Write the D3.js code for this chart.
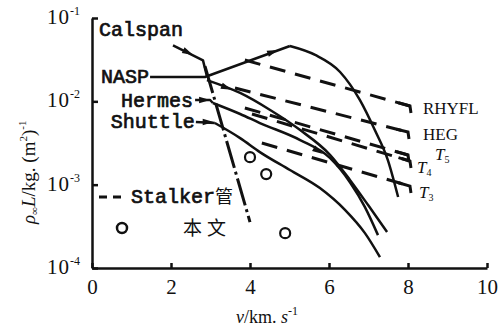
<!DOCTYPE html>
<html><head><meta charset="utf-8">
<script src="https://cdn.jsdelivr.net/npm/d3@7"></script>
<style>body{margin:0;background:#fff}</style>
</head><body>
<script>
var width = 504, height = 329;

var xTicks = [0, 2, 4, 6, 8, 10];
var yTicks = [1e-1, 1e-2, 1e-3, 1e-4];
var yTickExp = ["-1", "-2", "-3", "-4"];

// vehicles: pointer lines and corridors, v (km/s) vs rho*L
var calspan = [[2.05, 0.047], [2.81, 0.031], [2.91, 0.020]];
var nasp = [[1.47, 0.0196], [2.86, 0.0196], [5.01, 0.0461]];
var naspArc = [[5.01, 0.0461], [5.65, 0.036], [6.28, 0.0225], [6.78, 0.0104], [7.16, 0.00452], [7.49, 0.00197], [7.75, 0.00071]];
var naspTrunk = [[2.91, 0.018], [3.75, 0.0126], [4.51, 0.00787], [5.27, 0.00452], [6.03, 0.00227], [6.53, 0.00114], [6.99, 0.000569], [7.47, 0.00027]];
var hermesPtr = [[2.61, 0.01037], [2.99, 0.01037], [3.06, 0.00955]];
var hermes = [[3.06, 0.00955], [3.75, 0.00705], [4.25, 0.00549], [5.27, 0.00343], [6.03, 0.00208], [6.53, 0.00107], [6.91, 0.000538], [7.24, 0.000248]];
var shuttlePtr = [[2.63, 0.00565], [3.11, 0.00549]];
var shuttle = [[3.11, 0.00549], [3.75, 0.00362], [4.25, 0.00246], [5.01, 0.0015], [5.77, 0.00091], [6.41, 0.000495], [6.91, 0.000262], [7.29, 0.000135]];
var dashDot = [[2.86, 0.0265], [4.0, 0.000356]];

// Stalker tubes
var tubeNames = ["RHYFL", "HEG", "T5", "T4", "T3"];
var tubeStart = [[3.87, 0.0313], [3.62, 0.01445], [3.87, 0.00832], [4.05, 0.00705], [4.30, 0.00316]];
var tubeEnd = [[8.05, 0.00879], [8.0, 0.00428], [8.0, 0.00227], [8.05, 0.00192], [8.05, 0.000962]];

// this work
var thisWork = [[4.0, 0.00214], [4.41, 0.00134], [4.89, 0.000262]];

// arrows: [tail, tip]
var arrows = [
  [[2.05, 0.047], [2.56, 0.036]],
  [[2.86, 0.0196], [4.71, 0.0413]],
  [[2.91, 0.018], [3.54, 0.01377]],
  [[2.61, 0.01037], [2.99, 0.01037]],
  [[2.63, 0.00565], [3.08, 0.00565]],
  [[5.27, 0.00343], [5.85, 0.00234]]
];

var x = d3.scaleLinear().domain([0, 10]).range([92, 487]);
var y = d3.scaleLog().domain([1e-4, 1e-1]).range([268, 18]);

var svg = d3.select("body").append("svg")
    .attr("width", width)
    .attr("height", height)
    .style("background", "#fff");

var ink = "#111";
var line = d3.line().x(function(d) { return x(d[0]); }).y(function(d) { return y(d[1]); });
var curve = d3.line().x(function(d) { return x(d[0]); }).y(function(d) { return y(d[1]); }).curve(d3.curveMonotoneX);

// axes
var xAxis = svg.append("g")
    .attr("transform", "translate(0," + y(1e-4) + ")")
    .call(d3.axisBottom(x).tickValues(xTicks).tickSizeInner(-5).tickSizeOuter(0).tickPadding(11).tickFormat(d3.format("d")));
var yAxis = svg.append("g")
    .attr("transform", "translate(" + x(0) + ",0)")
    .call(d3.axisLeft(y).tickValues(yTicks).tickSizeInner(-6).tickSizeOuter(0).tickFormat(""));
svg.selectAll(".domain, .tick line").attr("stroke", ink).attr("stroke-width", 2.5);
xAxis.selectAll("text").attr("font-family", "Liberation Serif").attr("font-size", 21).attr("fill", ink);

yTicks.forEach(function(t, i) {
  var tx = svg.append("text")
      .attr("x", 80)
      .attr("y", y(t) + 6)
      .attr("text-anchor", "end")
      .attr("font-family", "Liberation Serif")
      .attr("fill", ink);
  tx.append("tspan").attr("font-size", 21).attr("letter-spacing", 1).text("10");
  tx.append("tspan").attr("font-size", 12).attr("dy", -9).text(yTickExp[i]);
});

// axis titles
var xt = svg.append("text")
    .attr("x", 236).attr("y", 323)
    .attr("font-family", "Liberation Serif").attr("font-size", 18).attr("fill", ink);
xt.append("tspan").attr("font-style", "italic").text("v");
xt.append("tspan").text("/km. ");
xt.append("tspan").attr("font-style", "italic").text("s");
xt.append("tspan").attr("font-size", 12).attr("dy", -8).text("-1");

var yt = svg.append("text")
    .attr("transform", "translate(35,224) rotate(-90)")
    .attr("font-family", "Liberation Serif").attr("font-size", 19).attr("fill", ink);
yt.append("tspan").attr("font-style", "italic").text("ρ");
yt.append("tspan").attr("font-size", 11).attr("dy", 3).text("∞");
yt.append("tspan").attr("font-style", "italic").attr("dy", -3).text("L");
yt.append("tspan").text("/kg. (m");
yt.append("tspan").attr("font-size", 11).attr("dy", -8).text("2");
yt.append("tspan").attr("dy", 8).text(")");
yt.append("tspan").attr("font-size", 11).attr("dy", -9).text("-1");

// stalker tube lines
tubeNames.forEach(function(n, i) {
  var a = tubeStart[i], b = tubeEnd[i];
  svg.append("path")
      .attr("d", line([a, b]))
      .attr("fill", "none").attr("stroke", ink).attr("stroke-width", 3)
      .attr("stroke-dasharray", "16,10");
  var ex = x(b[0]), ey = y(b[1]);
  var ang = Math.atan2(y(b[1]) - y(a[1]), x(b[0]) - x(a[0]));
  svg.append("path")
      .attr("d", "M" + (ex - 12 * Math.cos(ang)) + "," + (ey - 12 * Math.sin(ang)) + "L" + ex + "," + ey + "l1,7")
      .attr("fill", "none").attr("stroke", ink).attr("stroke-width", 3);
});

// tube labels
var tubeLabelOff = [[13, 8], [15, 8], [27, 5], [7, 12], [9, 12]];
tubeNames.forEach(function(n, i) {
  var b = tubeEnd[i];
  var t = svg.append("text")
      .attr("x", x(b[0]) + tubeLabelOff[i][0])
      .attr("y", y(b[1]) + tubeLabelOff[i][1])
      .attr("font-family", "Liberation Serif").attr("fill", ink);
  if (n.charAt(0) === "T") {
    t.append("tspan").attr("font-size", 17).attr("font-style", "italic").text("T");
    t.append("tspan").attr("font-size", 10).attr("dy", 3).text(n.slice(1));
  } else {
    t.attr("font-size", 17).text(n);
  }
});

// solid lines
[calspan, nasp, hermesPtr, shuttlePtr].forEach(function(d) {
  svg.append("path").attr("d", line(d))
      .attr("fill", "none").attr("stroke", ink).attr("stroke-width", 2.5).attr("stroke-linejoin", "round");
});
[naspArc, naspTrunk, hermes, shuttle].forEach(function(d) {
  svg.append("path").attr("d", curve(d))
      .attr("fill", "none").attr("stroke", ink).attr("stroke-width", 2.5);
});
svg.append("path").attr("d", line(dashDot))
    .attr("fill", "none").attr("stroke", ink).attr("stroke-width", 3)
    .attr("stroke-dasharray", "28,4,3,4");

// arrows
arrows.forEach(function(a) {
  var x1 = x(a[0][0]), y1 = y(a[0][1]), x2 = x(a[1][0]), y2 = y(a[1][1]);
  var ang = Math.atan2(y2 - y1, x2 - x1) * 180 / Math.PI;
  svg.append("path")
      .attr("d", "M0,0L-11,-3.2L-11,3.2Z")
      .attr("transform", "translate(" + x2 + "," + y2 + ") rotate(" + ang + ")")
      .attr("fill", ink);
});

// this work points
svg.selectAll("circle.pt")
    .data(thisWork)
    .enter().append("circle")
    .attr("class", "pt")
    .attr("cx", function(d) { return x(d[0]); })
    .attr("cy", function(d) { return y(d[1]); })
    .attr("r", 5)
    .attr("fill", "none").attr("stroke", ink).attr("stroke-width", 2.2);

// vehicle labels
var mono = function(t, px, py) {
  return svg.append("text").attr("x", px).attr("y", py)
      .attr("font-family", "Liberation Mono")
      .attr("font-size", 20).attr("fill", ink)
      .attr("stroke", ink).attr("stroke-width", 0.7).text(t);
};
mono("Calspan", x(calspan[0][0]) + 10, y(calspan[0][1]) - 9).attr("text-anchor", "end");
mono("NASP", x(nasp[0][0]) - 1, y(nasp[0][1]) + 6).attr("text-anchor", "end");
mono("Hermes", x(hermesPtr[0][0]) - 2, y(hermesPtr[0][1]) + 7).attr("text-anchor", "end");
mono("Shuttle", x(shuttlePtr[0][0]) - 1, y(shuttlePtr[0][1]) + 6).attr("text-anchor", "end");

// legend
svg.append("line").attr("x1", 99).attr("x2", 125).attr("y1", 197).attr("y2", 197)
    .attr("stroke", ink).attr("stroke-width", 3).attr("stroke-dasharray", "8,6");
var lg = mono("Stalker", 131, 203);
lg.append("tspan").attr("font-family", "Noto Sans CJK SC").attr("stroke-width", 0).attr("font-size", 18).text("管");
svg.append("circle").attr("cx", 122).attr("cy", 228).attr("r", 5)
    .attr("fill", "none").attr("stroke", ink).attr("stroke-width", 2.5);
svg.append("text").attr("x", 183).attr("y", 235)
    .attr("font-family", "Noto Sans CJK SC").attr("font-size", 19).attr("letter-spacing", 5)
    .attr("fill", ink).text("本文");
</script>
</body></html>
